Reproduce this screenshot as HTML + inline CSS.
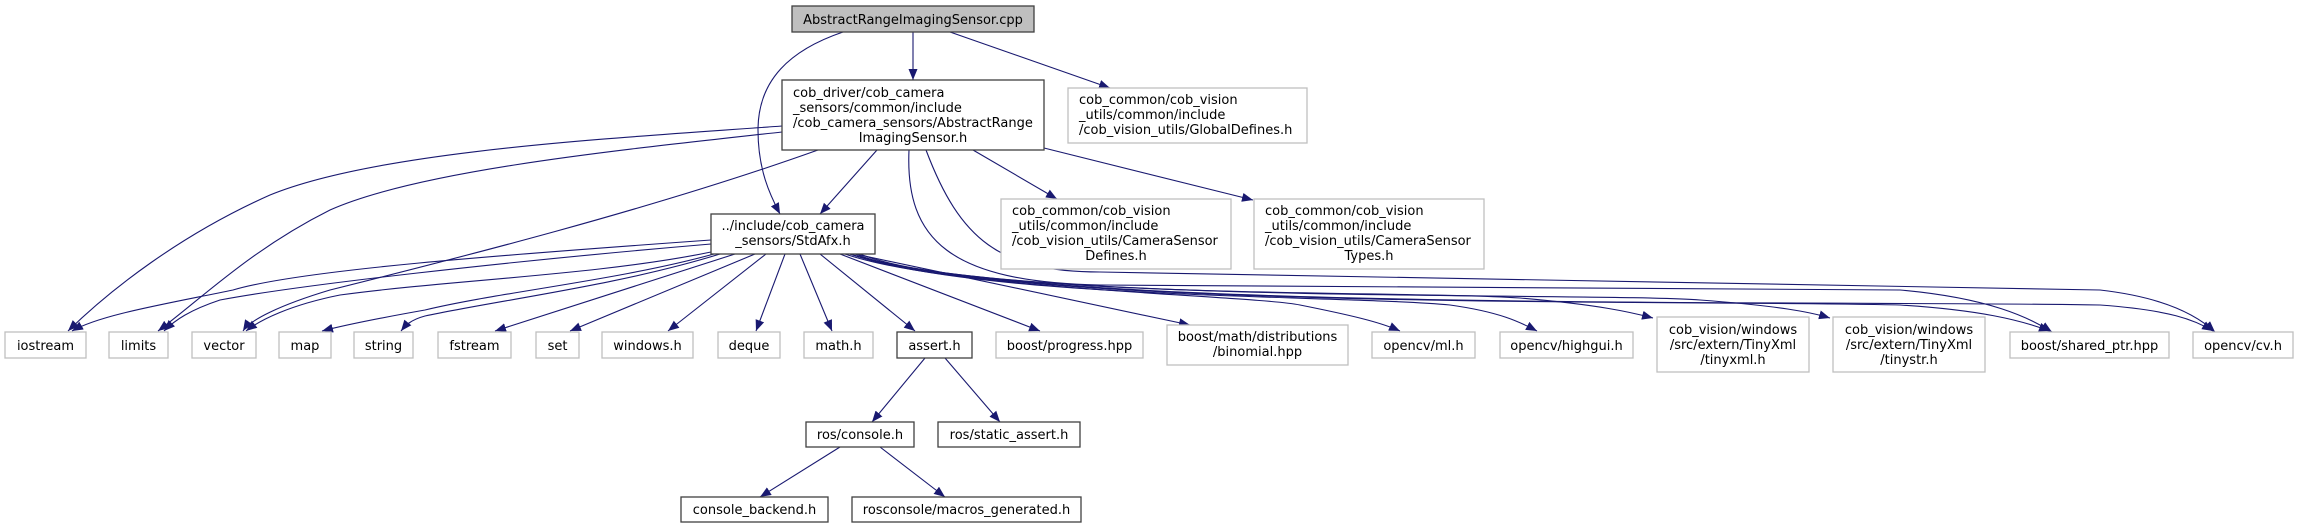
<!DOCTYPE html>
<html><head><meta charset="utf-8"><style>
html,body{margin:0;padding:0;background:#fff;}
svg{display:block;}
text{font-family:"DejaVu Sans","Liberation Sans",sans-serif;font-size:13px;fill:#000;}
.e{fill:none;stroke:#191970;stroke-width:1.1;}
.g{fill:#fff;stroke:#bfbfbf;stroke-width:1.3;}
.k{fill:#fff;stroke:#404040;stroke-width:1.3;}
</style></head><body>
<svg width="2298" height="528" viewBox="0 0 2298 528" xmlns="http://www.w3.org/2000/svg">
<defs><marker id="a" markerUnits="userSpaceOnUse" markerWidth="12" markerHeight="10" refX="11" refY="4.5" orient="auto"><path d="M0,0 L11,4.5 L0,9 z" fill="#191970"/></marker></defs>
<g class="e" marker-end="url(#a)">
<path d="M913,32 L913,80"/>
<path d="M950,32 L1110,88"/>
<path d="M843,32 C790,50 758,80 758,130 C758,170 770,195 780,214"/>
<path d="M877,150 L820,214"/>
<path d="M973,150 L1057,199"/>
<path d="M1044,148 L1253,200"/>
<path d="M782,126 C620,138 380,150 270,195 C180,235 110,290 68,331"/>
<path d="M782,132 C620,150 420,170 330,210 C250,250 200,300 158,331"/>
<path d="M818,150 C650,210 450,260 330,290 C280,305 250,320 243,331"/>
<path d="M909,150 C905,240 950,282 1100,285 L1900,290 C1990,298 2030,318 2052,332"/>
<path d="M926,150 C960,240 1000,272 1100,272 L2100,290 C2170,298 2200,318 2215,332"/>
<path d="M711,240 C500,255 300,270 233,290 C160,305 100,315 72,331"/>
<path d="M711,244 C500,262 300,285 220,300 C190,310 175,320 164,331"/>
<path d="M711,252 C600,275 450,280 340,295 C290,305 260,320 246,331"/>
<path d="M714,254 C620,280 500,292 425,310 C380,318 345,325 322,331"/>
<path d="M720,254 C620,285 500,300 425,316 C410,320 405,326 401,331"/>
<path d="M735,254 L495,331"/>
<path d="M755,254 L570,331"/>
<path d="M766,254 L668,331"/>
<path d="M785,254 L756,331"/>
<path d="M800,254 L832,331"/>
<path d="M820,254 L915,331"/>
<path d="M840,254 L1040,331"/>
<path d="M855,254 L1190,325"/>
<path d="M845,254 C950,290 1250,295 1300,305 C1350,315 1380,322 1400,331"/>
<path d="M850,254 C980,300 1350,295 1450,305 C1500,312 1520,322 1537,331"/>
<path d="M850,254 C1000,300 1400,290 1520,298 C1600,305 1630,312 1653,318"/>
<path d="M850,254 C1000,305 1600,292 1700,300 C1780,306 1810,312 1830,318"/>
<path d="M855,254 C1000,310 1700,300 1900,305 C1980,310 2020,320 2050,331"/>
<path d="M860,254 C1000,312 1800,300 2100,305 C2170,310 2195,320 2213,331"/>
<path d="M925,358 L872,422"/>
<path d="M945,358 L1000,422"/>
<path d="M840,447 L760,497"/>
<path d="M880,447 L945,497"/>
</g>
<rect x="792" y="6" width="242" height="26" fill="#bfbfbf" stroke="#404040" stroke-width="1.3"/>
<text x="913" y="24" text-anchor="middle">AbstractRangeImagingSensor.cpp</text>
<rect class="k" x="782" y="80" width="262" height="70"/>
<text x="793" y="97">cob_driver/cob_camera</text>
<text x="793" y="112">_sensors/common/include</text>
<text x="793" y="127">/cob_camera_sensors/AbstractRange</text>
<text x="913" y="142" text-anchor="middle">ImagingSensor.h</text>
<rect class="g" x="1068" y="88" width="239" height="55"/>
<text x="1079" y="104">cob_common/cob_vision</text>
<text x="1079" y="119">_utils/common/include</text>
<text x="1079" y="134">/cob_vision_utils/GlobalDefines.h</text>
<rect class="k" x="711" y="214" width="164" height="40"/>
<text x="793" y="230" text-anchor="middle">../include/cob_camera</text>
<text x="793" y="245" text-anchor="middle">_sensors/StdAfx.h</text>
<rect class="g" x="1001" y="199" width="230" height="70"/>
<text x="1012" y="215">cob_common/cob_vision</text>
<text x="1012" y="230">_utils/common/include</text>
<text x="1012" y="245">/cob_vision_utils/CameraSensor</text>
<text x="1116" y="260" text-anchor="middle">Defines.h</text>
<rect class="g" x="1254" y="199" width="230" height="70"/>
<text x="1265" y="215">cob_common/cob_vision</text>
<text x="1265" y="230">_utils/common/include</text>
<text x="1265" y="245">/cob_vision_utils/CameraSensor</text>
<text x="1369" y="260" text-anchor="middle">Types.h</text>
<g>
<rect class="g" x="5" y="332" width="81" height="26"/><text x="45.5" y="350" text-anchor="middle">iostream</text>
<rect class="g" x="109" y="332" width="59" height="26"/><text x="138.5" y="350" text-anchor="middle">limits</text>
<rect class="g" x="192" y="332" width="64" height="26"/><text x="224" y="350" text-anchor="middle">vector</text>
<rect class="g" x="279" y="332" width="52" height="26"/><text x="305" y="350" text-anchor="middle">map</text>
<rect class="g" x="354" y="332" width="59" height="26"/><text x="383.5" y="350" text-anchor="middle">string</text>
<rect class="g" x="438" y="332" width="73" height="26"/><text x="474.5" y="350" text-anchor="middle">fstream</text>
<rect class="g" x="536" y="332" width="43" height="26"/><text x="557.5" y="350" text-anchor="middle">set</text>
<rect class="g" x="602" y="332" width="91" height="26"/><text x="647.5" y="350" text-anchor="middle">windows.h</text>
<rect class="g" x="718" y="332" width="62" height="26"/><text x="749" y="350" text-anchor="middle">deque</text>
<rect class="g" x="804" y="332" width="69" height="26"/><text x="838.5" y="350" text-anchor="middle">math.h</text>
<rect class="k" x="897" y="332" width="75" height="26"/><text x="934.5" y="350" text-anchor="middle">assert.h</text>
<rect class="g" x="996" y="332" width="147" height="26"/><text x="1069.5" y="350" text-anchor="middle">boost/progress.hpp</text>
<rect class="g" x="1167" y="325" width="181" height="40"/><text x="1257.5" y="341" text-anchor="middle">boost/math/distributions</text><text x="1257.5" y="356" text-anchor="middle">/binomial.hpp</text>
<rect class="g" x="1372" y="332" width="103" height="26"/><text x="1423.5" y="350" text-anchor="middle">opencv/ml.h</text>
<rect class="g" x="1500" y="332" width="133" height="26"/><text x="1566.5" y="350" text-anchor="middle">opencv/highgui.h</text>
<rect class="g" x="1657" y="317" width="152" height="55"/><text x="1733" y="334" text-anchor="middle">cob_vision/windows</text><text x="1733" y="349" text-anchor="middle">/src/extern/TinyXml</text><text x="1733" y="364" text-anchor="middle">/tinyxml.h</text>
<rect class="g" x="1833" y="317" width="152" height="55"/><text x="1909" y="334" text-anchor="middle">cob_vision/windows</text><text x="1909" y="349" text-anchor="middle">/src/extern/TinyXml</text><text x="1909" y="364" text-anchor="middle">/tinystr.h</text>
<rect class="g" x="2010" y="332" width="159" height="26"/><text x="2089.5" y="350" text-anchor="middle">boost/shared_ptr.hpp</text>
<rect class="g" x="2193" y="332" width="100" height="26"/><text x="2243" y="350" text-anchor="middle">opencv/cv.h</text>
</g>
<rect class="k" x="806" y="422" width="108" height="25"/><text x="860" y="439" text-anchor="middle">ros/console.h</text>
<rect class="k" x="938" y="422" width="142" height="25"/><text x="1009" y="439" text-anchor="middle">ros/static_assert.h</text>
<rect class="k" x="681" y="497" width="147" height="25"/><text x="754.5" y="514" text-anchor="middle">console_backend.h</text>
<rect class="k" x="852" y="497" width="229" height="25"/><text x="966.5" y="514" text-anchor="middle">rosconsole/macros_generated.h</text>
</svg>
</body></html>
